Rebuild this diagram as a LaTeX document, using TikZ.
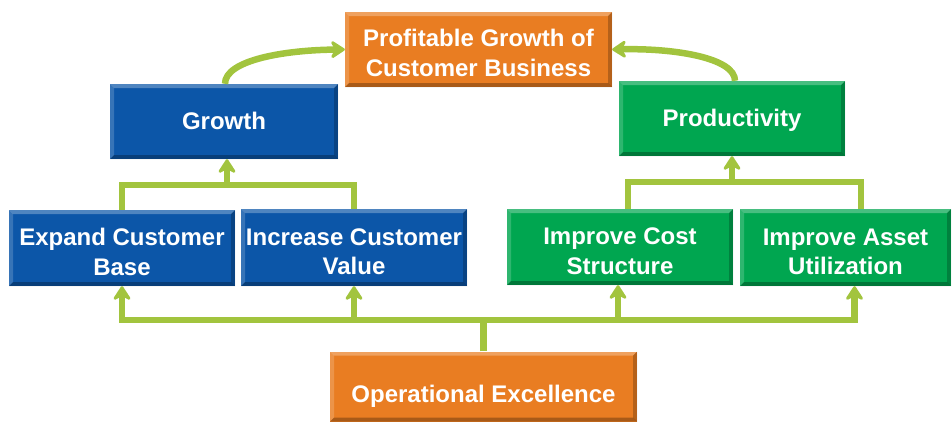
\documentclass[tikz,border=0pt]{standalone}
\usepackage{fontspec}
\setmainfont{Liberation Sans}
\usetikzlibrary{arrows.meta,calc}
\definecolor{lime}{HTML}{A2C43E}
\definecolor{bblue}{HTML}{0C56A8}
\definecolor{bgreen}{HTML}{00A650}
\definecolor{borange}{HTML}{E97D22}
\newsavebox\txtbox
\newcommand\boxtext[2]{\sbox\txtbox{\begin{tabular}{@{}c@{}}#2\end{tabular}}\raisebox{-#1}[\ht\txtbox][\dp\txtbox]{\usebox\txtbox}}
\tikzset{
  box/.style={rectangle, inner sep=0pt, text=white, align=center,
    font=\bfseries\fontsize{24}{29.5}\selectfont,
    path picture={
      \fill[white,opacity=0.28] (path picture bounding box.north west) -- (path picture bounding box.north east)
        -- ([shift={(-4pt,-4pt)}]path picture bounding box.north east) -- ([shift={(4pt,-4pt)}]path picture bounding box.north west) -- cycle;
      \fill[white,opacity=0.18] (path picture bounding box.north west) -- ([shift={(4pt,-4pt)}]path picture bounding box.north west)
        -- ([shift={(4pt,4pt)}]path picture bounding box.south west) -- (path picture bounding box.south west) -- cycle;
      \fill[black,opacity=0.28] (path picture bounding box.south west) -- (path picture bounding box.south east)
        -- ([shift={(-4pt,4pt)}]path picture bounding box.south east) -- ([shift={(4pt,4pt)}]path picture bounding box.south west) -- cycle;
      \fill[black,opacity=0.22] (path picture bounding box.north east) -- ([shift={(-4pt,-4pt)}]path picture bounding box.north east)
        -- ([shift={(-4pt,4pt)}]path picture bounding box.south east) -- (path picture bounding box.south east) -- cycle;
    }},
  bluebox/.style={box, fill=bblue},
  greenbox/.style={box, fill=bgreen},
  orangebox/.style={box, fill=borange},
  conn/.style={draw=lime, line width=6.5pt},
  tip/.style={-{Stealth[length=17pt,width=22pt,inset=6pt,round]}}
}
\begin{document}
\begin{tikzpicture}[x=1pt,y=-1pt]
\useasboundingbox (0,0) rectangle (952,423);
\node[orangebox, minimum width=267pt, minimum height=75pt] (top) at (478.5,49.5) {\boxtext{6pt}{Profitable Growth of\\Customer Business}};
\node[bluebox, minimum width=228pt, minimum height=75pt] (growth) at (224,121.5) {\boxtext{2pt}{Growth}};
\node[greenbox, minimum width=226pt, minimum height=75pt] (prod) at (732,118.5) {\boxtext{2pt}{Productivity}};
\node[bluebox, minimum width=226pt, minimum height=76pt] (expand) at (122,248) {\boxtext{6.5pt}{Expand Customer\\Base}};
\node[bluebox, minimum width=226pt, minimum height=77pt] (increase) at (354,247.5) {\boxtext{6.5pt}{Increase Customer\\Value}};
\node[greenbox, minimum width=226pt, minimum height=76pt] (cost) at (620,247) {\boxtext{6.5pt}{Improve Cost\\Structure}};
\node[greenbox, minimum width=211pt, minimum height=77pt] (asset) at (845.5,247.5) {\boxtext{6.5pt}{Improve Asset\\Utilization}};
\node[orangebox, minimum width=307pt, minimum height=70pt] (opex) at (483.5,386.5) {\boxtext{10pt}{Operational Excellence}};

% bottom bus
\coordinate (bus) at (483.5,320);
\draw[conn] (opex.north) -- (bus);
\draw[conn,tip] (bus) -| (expand.south);
\draw[conn,tip] (bus) -| (increase.south);
\draw[conn,tip] (bus) -| ([xshift=-2pt]cost.south);
\draw[conn,tip] (bus) -| ([xshift=9pt]asset.south);

% growth tree
\coordinate (gb) at (227,185);
\draw[conn] (expand.north) |- (gb) -| (increase.north);
\draw[conn,tip] (gb) -- ([xshift=3pt]growth.south);

% productivity tree
\coordinate (pb) at (732,182);
\draw[conn] ([xshift=8pt]cost.north) |- (pb) -| ([xshift=15.5pt]asset.north);
\draw[conn,tip] (pb) -- (prod.south);

% curved arrows
\draw[conn,tip] ([xshift=1pt]growth.north) .. controls (225,60) and (285,50) .. (top.west);
\draw[conn,tip] ([xshift=3pt]prod.north) .. controls (735,58) and (675,48) .. (top.east);
\end{tikzpicture}
\end{document}
